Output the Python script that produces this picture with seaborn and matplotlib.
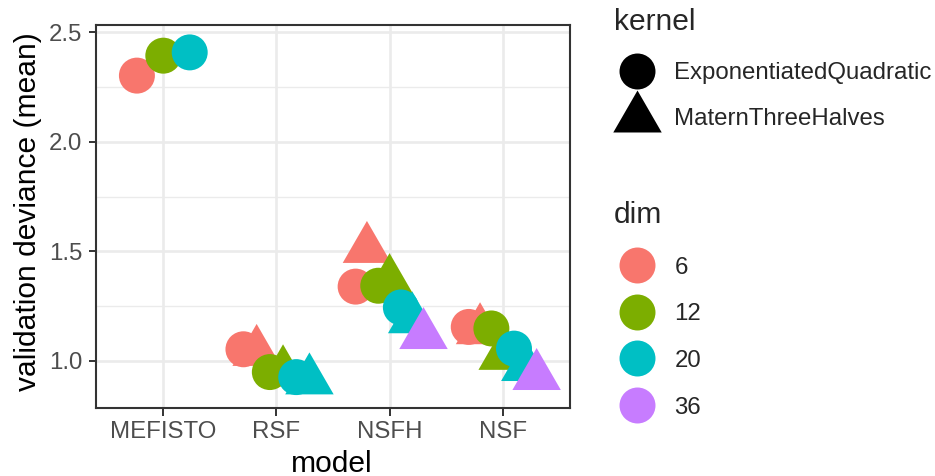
import numpy as np
import pandas as pd
import matplotlib
matplotlib.use("Agg")
import matplotlib.pyplot as plt
import seaborn as sns
from matplotlib.path import Path
from matplotlib.lines import Line2D
from matplotlib.ticker import FixedLocator

# ---------------- data ----------------
models = ["MEFISTO", "RSF", "NSFH", "NSF"]
dims = ["6", "12", "20", "36"]
kernels = ["ExponentiatedQuadratic", "MaternThreeHalves"]

point_model = ["MEFISTO", "MEFISTO", "MEFISTO",
               "RSF", "RSF", "RSF", "RSF", "RSF", "RSF",
               "NSFH", "NSFH", "NSFH", "NSFH", "NSFH", "NSFH", "NSFH",
               "NSF", "NSF", "NSF", "NSF", "NSF", "NSF", "NSF"]
point_dim = ["6", "12", "20",
             "6", "6", "12", "12", "20", "20",
             "6", "6", "12", "12", "20", "20", "36",
             "6", "6", "12", "12", "20", "20", "36"]
point_kernel = ["EQ", "EQ", "EQ",
                "EQ", "M32", "EQ", "M32", "EQ", "M32",
                "EQ", "M32", "EQ", "M32", "EQ", "M32", "M32",
                "EQ", "M32", "EQ", "M32", "EQ", "M32", "M32"]
point_value = [2.302, 2.393, 2.408,
               1.053, 1.041, 0.949, 0.948, 0.926, 0.911,
               1.339, 1.511, 1.343, 1.364, 1.244, 1.190, 1.118,
               1.155, 1.140, 1.148, 1.023, 1.056, 0.972, 0.931]

kernel_names = {"EQ": "ExponentiatedQuadratic", "M32": "MaternThreeHalves"}
palette = {"6": "#F8766D", "12": "#7CAE00", "20": "#00BFC4", "36": "#C77CFF"}

# ---------------- style ----------------
sns.set_style("white")
plt.rcParams["font.family"] = ["Liberation Sans", "DejaVu Sans"]

df = pd.DataFrame({"model": point_model, "dim": point_dim,
                   "kernel": [kernel_names[k] for k in point_kernel],
                   "value": point_value})

# position_dodge (width 0.7) over dim x kernel groups present in each model
dodge_w = 0.7
xpos = np.zeros(len(df))
for mi, m in enumerate(models):
    idx = df.index[df["model"] == m]
    sub = df.loc[idx].copy()
    sub["dord"] = sub["dim"].map({d: i for i, d in enumerate(dims)})
    sub["kord"] = sub["kernel"].map({k: i for i, k in enumerate(kernels)})
    sub = sub.sort_values(["dord", "kord"])
    n = len(sub)
    for j, ii in enumerate(sub.index):
        xpos[ii] = mi - dodge_w / 2 + dodge_w / n * (j + 0.5)
df["x"] = xpos
df["dord"] = df["dim"].map({d: i for i, d in enumerate(dims)})
df = df.sort_values(["dord"], kind="stable")

# triangle centred on its circumcentre (as in R's pch 17)
tri = Path([[0, 1], [-np.sqrt(3) / 2, -0.5], [np.sqrt(3) / 2, -0.5], [0, 1]],
           [Path.MOVETO, Path.LINETO, Path.LINETO, Path.CLOSEPOLY])
circ_ms = 25.9
tri_ms = 40.3

W, H = 935, 476
fig = plt.figure(figsize=(W / 100, H / 100), dpi=100)
L, R, T, B = 96, 570, 25, 408
ax = fig.add_axes([L / W, 1 - B / H, (R - L) / W, (B - T) / H])

sns.scatterplot(data=df, x="x", y="value", hue="dim", hue_order=dims,
                palette=palette, style="kernel", style_order=kernels,
                markers={kernels[0]: "o", kernels[1]: tri},
                size="kernel", sizes={kernels[0]: circ_ms ** 2, kernels[1]: tri_ms ** 2},
                linewidth=0, edgecolor="none", alpha=1, legend=False, ax=ax, zorder=3)

ax.set_xlim(-0.595, 3.595)
ax.set_ylim(0.785, 2.533)
ax.set_xticks(range(len(models)))
ax.set_xticklabels(models)
yt = [1.0, 1.5, 2.0, 2.5]
ax.set_yticks(yt)
ax.set_yticklabels([f"{v:.1f}" for v in yt])
ax.yaxis.set_minor_locator(FixedLocator([1.25, 1.75, 2.25]))
ax.set_axisbelow(True)
ax.grid(which="major", color="#EBEBEB", linewidth=1.9)
ax.grid(which="minor", axis="y", color="#EBEBEB", linewidth=0.95)
ax.tick_params(which="major", direction="out", length=5.4, width=1.4, color="#333333",
               labelsize=17.3, labelcolor="#4D4D4D", pad=4.3,
               bottom=True, left=True)
ax.tick_params(which="minor", length=0)
for s in ax.spines.values():
    s.set_visible(True)
    s.set_color("#333333")
    s.set_linewidth(1.5)

ax.set_xlabel("model", fontsize=21.6, color="black")
ax.set_ylabel("validation deviance (mean)", fontsize=21.6, color="black")
ax.xaxis.set_label_coords((332 - L) / (R - L), (B - 450.3) / (B - T))
ax.yaxis.set_label_coords((42 - L) / (R - L), (B - 212) / (B - T))

# ---------------- legends (ggplot-style, right side) ----------------
def fp(x, y):
    return x / W, 1 - y / H

fig.text(*fp(614, 29.5), "kernel", fontsize=21.6, ha="left", va="baseline")
key_x = 636.8
fig.add_artist(Line2D([fp(key_x, 71)[0]], [fp(key_x, 71)[1]], marker="o",
                      markersize=circ_ms, color="black", markeredgewidth=0,
                      linestyle="none", transform=fig.transFigure))
fig.add_artist(Line2D([fp(key_x, 117.8)[0]], [fp(key_x, 117.8)[1]], marker=tri,
                      markersize=tri_ms, color="black", markeredgewidth=0,
                      linestyle="none", transform=fig.transFigure))
fig.text(*fp(674.5, 79.3), kernels[0], fontsize=17.3, ha="left", va="baseline")
fig.text(*fp(674.5, 125.0), kernels[1], fontsize=17.3, ha="left", va="baseline")

fig.text(*fp(614, 223.3), "dim", fontsize=21.6, ha="left", va="baseline")
for i, d in enumerate(dims):
    yc = 265 + 46.7 * i
    fig.add_artist(Line2D([fp(key_x, yc)[0]], [fp(key_x, yc)[1]], marker="o",
                          markersize=circ_ms, color=palette[d], markeredgewidth=0,
                          linestyle="none", transform=fig.transFigure))
    fig.text(*fp(674.5, yc + 8.5), d, fontsize=17.3, ha="left", va="baseline")

fig.savefig("out.png", dpi=100)
